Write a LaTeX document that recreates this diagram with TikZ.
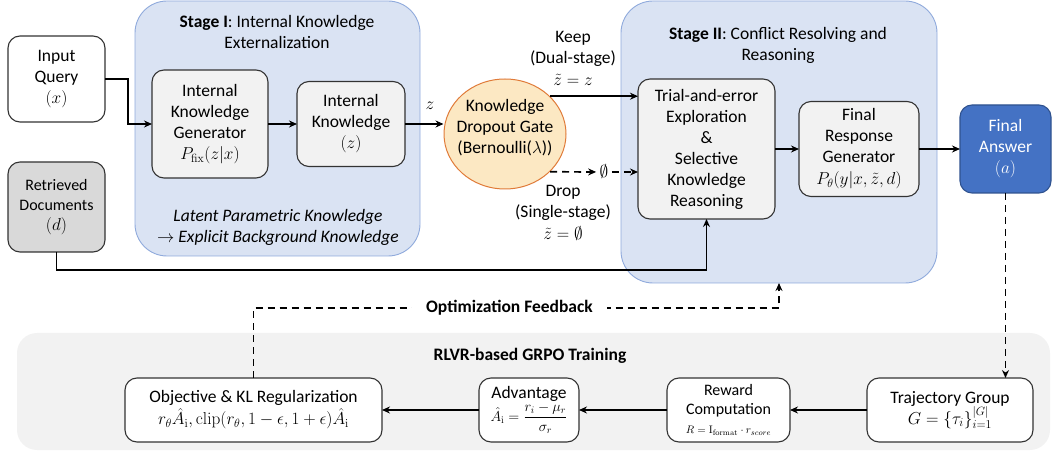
\documentclass[tikz,border=0pt]{standalone}
\usepackage{amsmath}
\usepackage{amssymb}
\usepackage[no-math]{fontspec}
\setmainfont{Carlito}
\usetikzlibrary{arrows.meta,shapes.geometric}
\definecolor{stagefill}{HTML}{DAE3F3}
\definecolor{stageline}{HTML}{8FAADC}
\definecolor{boxfill}{HTML}{F2F2F2}
\definecolor{docfill}{HTML}{D9D9D9}
\definecolor{gatefill}{HTML}{FCE8C3}
\definecolor{gateline}{HTML}{E07B39}
\definecolor{answerfill}{HTML}{4472C4}
\definecolor{answerline}{HTML}{2F528F}
\newcommand{\bodysize}{\fontsize{17.5}{21}\selectfont}
\tikzset{>/.tip={Stealth[length=8pt,width=7pt]},
  box/.style={draw=black!80,fill=boxfill,rounded corners=12pt,line width=1.1pt,align=center,inner sep=0pt,outer sep=0pt},
  stage/.style={draw=stageline,fill=stagefill,rounded corners=32pt,line width=0.9pt,inner sep=0pt,outer sep=0pt},
  flow/.style={->,line width=1.7pt},
  dflow/.style={->,line width=1.7pt,dash pattern=on 7pt off 5pt}}

\begin{document}
\begin{tikzpicture}[x=1pt,y=-1pt,font=\bodysize]
\useasboundingbox (0,0) rectangle (1053,454);
\node[stage,minimum width=285,minimum height=255] (stageI) at (277.5,128.5) {};
\node[stage,minimum width=316,minimum height=282] (stageII) at (779,142) {};
\node[fill=boxfill,rounded corners=20pt,minimum width=1033,minimum height=117] (train) at (533.5,391.5) {};

\node[align=center] (titleI) at (277,32) {\textbf{Stage I}: Internal Knowledge\\Externalization};
\node[align=center] (titleII) at (778,45.5) {\textbf{Stage II}: Conflict Resolving and\\Reasoning};
\node[align=center,font=\bodysize\itshape] (latent) at (278,227.5) {Latent Parametric Knowledge\\{\upshape$\rightarrow$} Explicit Background Knowledge};
\node (trainlabel) at (530,356) {\textbf{RLVR-based GRPO Training}};

\node[box,fill=white,minimum width=97,minimum height=86] (query) at (56.5,79) {Input\\Query\\$(x)$};
\node[box,fill=docfill,minimum width=97,minimum height=90,font=\fontsize{16}{20}\selectfont] (docs) at (56.5,207) {Retrieved\\Documents\\{\bodysize$(d)$}};
\node[box,minimum width=116,minimum height=108] (gen) at (210,124) {Internal\\Knowledge\\Generator\\$P_{\mathrm{fix}}(z|x)$};
\node[box,minimum width=108,minimum height=85] (ik) at (351,124) {Internal\\Knowledge\\$(z)$};
\node[ellipse,draw=gateline,fill=gatefill,line width=1pt,minimum width=122,minimum height=110,inner sep=0pt] (gate) at (505,134) {};
\node[align=center] (gatetext) at (505,128) {Knowledge\\Dropout Gate\\(Bernoulli($\lambda$))};
\node[box,minimum width=137,minimum height=140] (trial) at (706.5,149) {Trial-and-error\\Exploration\\\&\\Selective\\Knowledge\\Reasoning};
\node[box,minimum width=120,minimum height=95] (resp) at (859,149) {Final\\Response\\Generator\\[1pt]$P_\theta(y|x,\tilde z,d)$};
\node[box,draw=answerline,fill=answerfill,text=white,minimum width=91,minimum height=88] (answer) at (1005.5,149) {Final\\Answer\\$(a)$};

\node (zlabel) at (430,106) {$z$};
\node[align=center] (keep) at (573,58) {Keep\\(Dual-stage)\\[1pt]$\tilde z=z$};
\node[align=center] (drop) at (563,213) {Drop\\(Single-stage)\\[1pt]$\tilde z=\emptyset$};
\node (empty) at (604,172) {$\emptyset$};

\node[box,fill=white,minimum width=257,minimum height=64] (obj) at (253.5,410) {Objective \& KL Regularization\\[1pt]$r_\theta\hat A_{\mathrm i},\mathrm{clip}(r_\theta,1-\epsilon,1+\epsilon)\hat A_{\mathrm i}$};
\node[box,fill=white,minimum width=100,minimum height=64] (adv) at (529,410) {Advantage\\{\fontsize{14}{16}\selectfont$\hat A_{\mathrm i}=\dfrac{r_i-\mu_r}{\sigma_r}$}};
\node[box,fill=white,minimum width=123,minimum height=64,font=\fontsize{16}{19}\selectfont] (reward) at (728.5,410) {Reward\\Computation\\{\fontsize{11}{13}\selectfont$R=\mathrm{I}_{\mathrm{format}}\cdot r_{score}$}};
\node[box,fill=white,minimum width=166,minimum height=64] (traj) at (950,410) {Trajectory Group\\$G=\{\tau_i\}_{i=1}^{|G|}$};

\draw[flow] (query.east) -- ++(23,0) |- (gen.west);
\draw[flow] (gen.east) -- (gen.east -| ik.west);
\draw[flow] (ik.east) -- (ik.east -| gate.west);
\draw[flow] (gate.40) -- (gate.40 -| trial.west);
\draw[dflow] (gate.-40) -- (empty);
\draw[dflow] (empty) -- (empty -| trial.west);
\draw[flow] (trial.east) -- (trial.east -| resp.west);
\draw[flow] (resp.east) -- (resp.east -| answer.west);
\draw[flow] (docs.south) -- ++(0,18) -| (trial.south);
\draw[dflow] (answer.south) -- (answer.south |- traj.north);
\draw[flow] (traj.west) -- (reward.east);
\draw[flow] (reward.west) -- (adv.east);
\draw[flow] (adv.west) -- (obj.east);
\draw[dflow] (obj.north) -- ++(0,-70) -| (stageII.south);
\node[fill=white,inner xsep=14pt] (fbtext) at (509.5,308) {\textbf{Optimization Feedback}};
\end{tikzpicture}
\end{document}
